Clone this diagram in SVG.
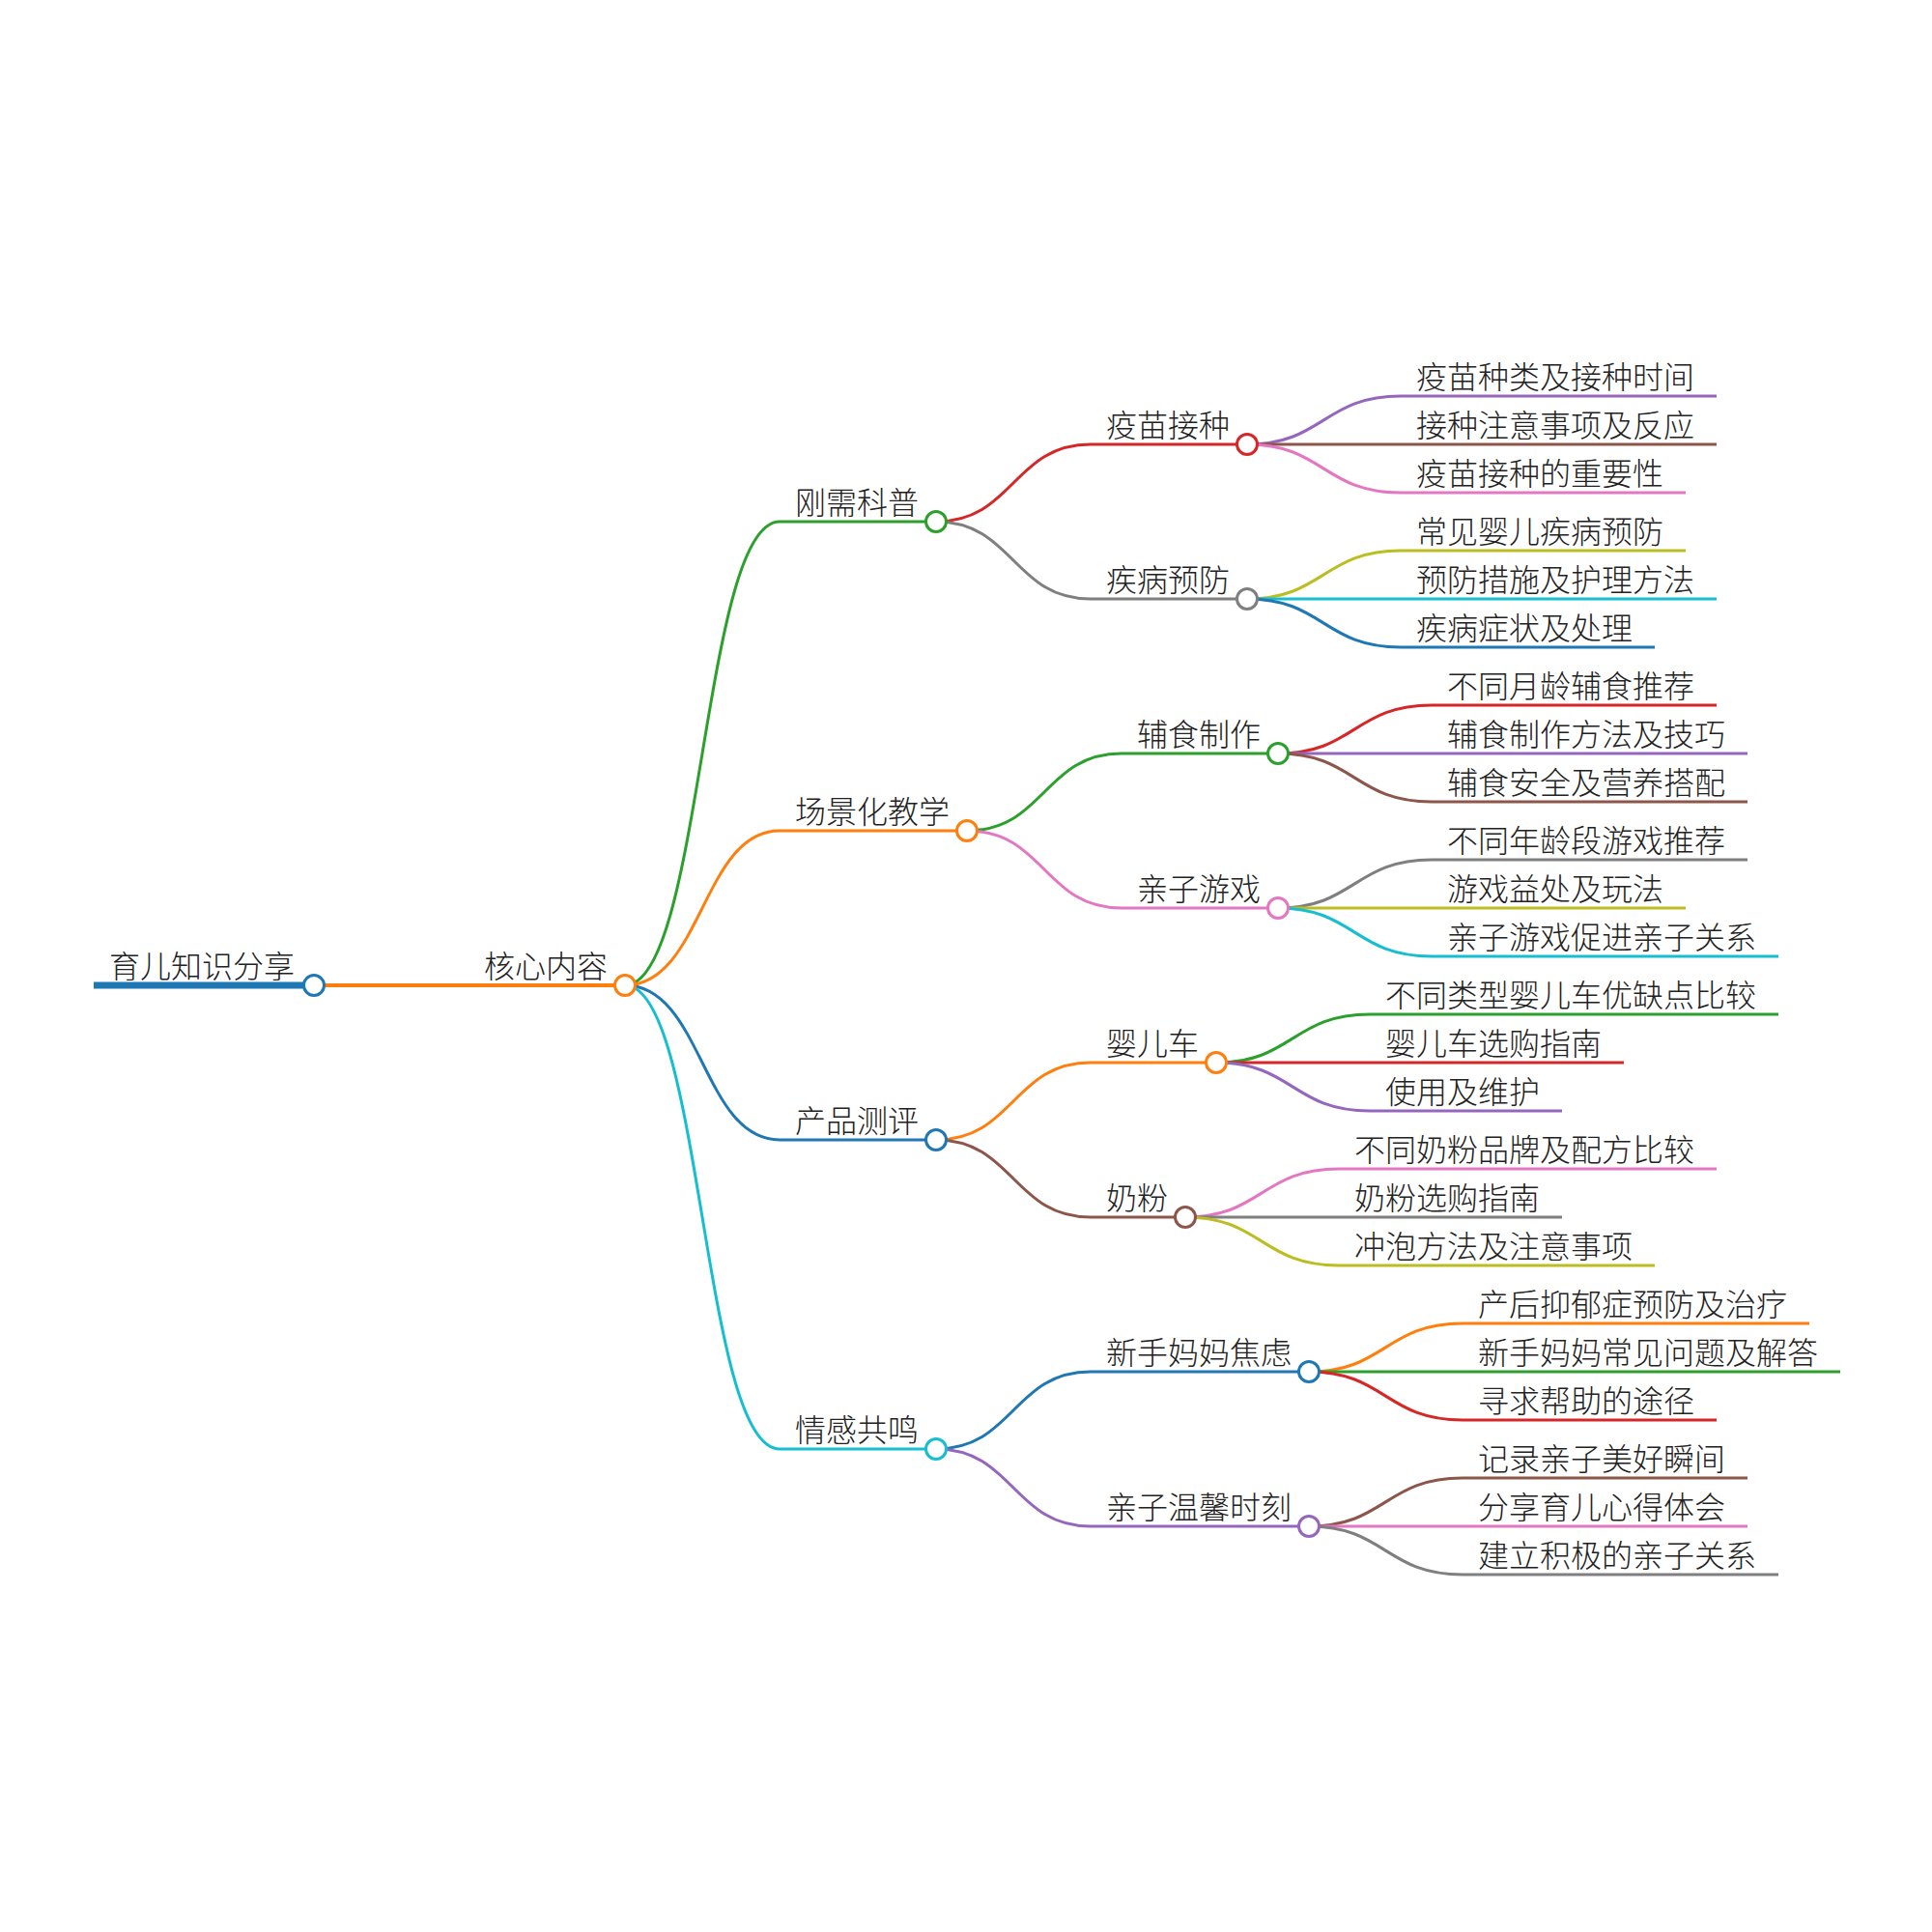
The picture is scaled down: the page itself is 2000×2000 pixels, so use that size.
<svg xmlns="http://www.w3.org/2000/svg" width="2000" height="2000" viewBox="0 0 2000 2000">
<style>
.t{font-family:"Noto Sans CJK SC","Noto Sans",sans-serif;font-size:32px;fill:#222;font-weight:300}
.c{fill:#fff;stroke-width:3}
.l{fill:none;stroke-width:3}
.u{stroke-width:3}
.blue{stroke:#1f77b4}.orange{stroke:#ff7f0e}.green{stroke:#2ca02c}.red{stroke:#d62728}.purple{stroke:#9467bd}
.brown{stroke:#8c564b}.pink{stroke:#e377c2}.gray{stroke:#7f7f7f}.olive{stroke:#bcbd22}.cyan{stroke:#17becf}
</style>
<rect width="2000" height="2000" fill="#fff"/>
<g id="connectors">
<line x1="325" y1="1020" x2="485" y2="1020" class="orange" stroke-width="4"/>
<path class="l green" d="M647,1020 C727,1020 727,540 807,540"/>
<path class="l orange" d="M647,1020 C727,1020 727,860 807,860"/>
<path class="l blue" d="M647,1020 C727,1020 727,1180 807,1180"/>
<path class="l cyan" d="M647,1020 C727,1020 727,1500 807,1500"/>
<path class="l red" d="M969,540 C1049,540 1049,460 1129,460"/>
<path class="l gray" d="M969,540 C1049,540 1049,620 1129,620"/>
<path class="l green" d="M1001,860 C1081,860 1081,780 1161,780"/>
<path class="l pink" d="M1001,860 C1081,860 1081,940 1161,940"/>
<path class="l orange" d="M969,1180 C1049,1180 1049,1100 1129,1100"/>
<path class="l brown" d="M969,1180 C1049,1180 1049,1260 1129,1260"/>
<path class="l blue" d="M969,1500 C1049,1500 1049,1420 1129,1420"/>
<path class="l purple" d="M969,1500 C1049,1500 1049,1580 1129,1580"/>
<path class="l purple" d="M1291,460 C1370,460 1370,410 1450,410"/>
<path class="l brown" d="M1291,460 L1450,460"/>
<path class="l pink" d="M1291,460 C1370,460 1370,510 1450,510"/>
<path class="l olive" d="M1291,620 C1370,620 1370,570 1450,570"/>
<path class="l cyan" d="M1291,620 L1450,620"/>
<path class="l blue" d="M1291,620 C1370,620 1370,670 1450,670"/>
<path class="l red" d="M1323,780 C1402,780 1402,730 1482,730"/>
<path class="l purple" d="M1323,780 L1482,780"/>
<path class="l brown" d="M1323,780 C1402,780 1402,830 1482,830"/>
<path class="l gray" d="M1323,940 C1402,940 1402,890 1482,890"/>
<path class="l olive" d="M1323,940 L1482,940"/>
<path class="l cyan" d="M1323,940 C1402,940 1402,990 1482,990"/>
<path class="l green" d="M1259,1100 C1338,1100 1338,1050 1418,1050"/>
<path class="l red" d="M1259,1100 L1418,1100"/>
<path class="l purple" d="M1259,1100 C1338,1100 1338,1150 1418,1150"/>
<path class="l pink" d="M1227,1260 C1306,1260 1306,1210 1386,1210"/>
<path class="l gray" d="M1227,1260 L1386,1260"/>
<path class="l olive" d="M1227,1260 C1306,1260 1306,1310 1386,1310"/>
<path class="l orange" d="M1355,1420 C1434,1420 1434,1370 1514,1370"/>
<path class="l green" d="M1355,1420 L1514,1420"/>
<path class="l red" d="M1355,1420 C1434,1420 1434,1470 1514,1470"/>
<path class="l brown" d="M1355,1580 C1434,1580 1434,1530 1514,1530"/>
<path class="l pink" d="M1355,1580 L1514,1580"/>
<path class="l gray" d="M1355,1580 C1434,1580 1434,1630 1514,1630"/>
</g>
<g id="n-root"><line x1="97" y1="1020" x2="325" y2="1020" class="blue" stroke-width="7"/><text class="t" x="113" y="1012">育儿知识分享</text><circle class="c blue" cx="325" cy="1020" r="10.5"/></g>
<g id="n-core"><line x1="485" y1="1020" x2="647" y2="1020" class="orange" stroke-width="4"/><text class="t" x="501" y="1012">核心内容</text><circle class="c orange" cx="647" cy="1020" r="10.5"/></g>
<g id="n-a"><line x1="807" y1="540" x2="969" y2="540" class="u green"/><text class="t" x="823" y="532">刚需科普</text><circle class="c green" cx="969" cy="540" r="10.5"/></g>
<g id="n-b"><line x1="807" y1="860" x2="1001" y2="860" class="u orange"/><text class="t" x="823" y="852">场景化教学</text><circle class="c orange" cx="1001" cy="860" r="10.5"/></g>
<g id="n-c"><line x1="807" y1="1180" x2="969" y2="1180" class="u blue"/><text class="t" x="823" y="1172">产品测评</text><circle class="c blue" cx="969" cy="1180" r="10.5"/></g>
<g id="n-d"><line x1="807" y1="1500" x2="969" y2="1500" class="u cyan"/><text class="t" x="823" y="1492">情感共鸣</text><circle class="c cyan" cx="969" cy="1500" r="10.5"/></g>
<g id="n-a1"><line x1="1129" y1="460" x2="1291" y2="460" class="u red"/><text class="t" x="1145" y="452">疫苗接种</text><circle class="c red" cx="1291" cy="460" r="10.5"/></g>
<g id="n-a2"><line x1="1129" y1="620" x2="1291" y2="620" class="u gray"/><text class="t" x="1145" y="612">疾病预防</text><circle class="c gray" cx="1291" cy="620" r="10.5"/></g>
<g id="n-b1"><line x1="1161" y1="780" x2="1323" y2="780" class="u green"/><text class="t" x="1177" y="772">辅食制作</text><circle class="c green" cx="1323" cy="780" r="10.5"/></g>
<g id="n-b2"><line x1="1161" y1="940" x2="1323" y2="940" class="u pink"/><text class="t" x="1177" y="932">亲子游戏</text><circle class="c pink" cx="1323" cy="940" r="10.5"/></g>
<g id="n-c1"><line x1="1129" y1="1100" x2="1259" y2="1100" class="u orange"/><text class="t" x="1145" y="1092">婴儿车</text><circle class="c orange" cx="1259" cy="1100" r="10.5"/></g>
<g id="n-c2"><line x1="1129" y1="1260" x2="1227" y2="1260" class="u brown"/><text class="t" x="1145" y="1252">奶粉</text><circle class="c brown" cx="1227" cy="1260" r="10.5"/></g>
<g id="n-d1"><line x1="1129" y1="1420" x2="1355" y2="1420" class="u blue"/><text class="t" x="1145" y="1412">新手妈妈焦虑</text><circle class="c blue" cx="1355" cy="1420" r="10.5"/></g>
<g id="n-d2"><line x1="1129" y1="1580" x2="1355" y2="1580" class="u purple"/><text class="t" x="1145" y="1572">亲子温馨时刻</text><circle class="c purple" cx="1355" cy="1580" r="10.5"/></g>
<g id="n-a1-1"><line x1="1450" y1="410" x2="1777" y2="410" class="u purple"/><text class="t" x="1466" y="402">疫苗种类及接种时间</text></g>
<g id="n-a1-2"><line x1="1450" y1="460" x2="1777" y2="460" class="u brown"/><text class="t" x="1466" y="452">接种注意事项及反应</text></g>
<g id="n-a1-3"><line x1="1450" y1="510" x2="1745" y2="510" class="u pink"/><text class="t" x="1466" y="502">疫苗接种的重要性</text></g>
<g id="n-a2-1"><line x1="1450" y1="570" x2="1745" y2="570" class="u olive"/><text class="t" x="1466" y="562">常见婴儿疾病预防</text></g>
<g id="n-a2-2"><line x1="1450" y1="620" x2="1777" y2="620" class="u cyan"/><text class="t" x="1466" y="612">预防措施及护理方法</text></g>
<g id="n-a2-3"><line x1="1450" y1="670" x2="1713" y2="670" class="u blue"/><text class="t" x="1466" y="662">疾病症状及处理</text></g>
<g id="n-b1-1"><line x1="1482" y1="730" x2="1777" y2="730" class="u red"/><text class="t" x="1498" y="722">不同月龄辅食推荐</text></g>
<g id="n-b1-2"><line x1="1482" y1="780" x2="1809" y2="780" class="u purple"/><text class="t" x="1498" y="772">辅食制作方法及技巧</text></g>
<g id="n-b1-3"><line x1="1482" y1="830" x2="1809" y2="830" class="u brown"/><text class="t" x="1498" y="822">辅食安全及营养搭配</text></g>
<g id="n-b2-1"><line x1="1482" y1="890" x2="1809" y2="890" class="u gray"/><text class="t" x="1498" y="882">不同年龄段游戏推荐</text></g>
<g id="n-b2-2"><line x1="1482" y1="940" x2="1745" y2="940" class="u olive"/><text class="t" x="1498" y="932">游戏益处及玩法</text></g>
<g id="n-b2-3"><line x1="1482" y1="990" x2="1841" y2="990" class="u cyan"/><text class="t" x="1498" y="982">亲子游戏促进亲子关系</text></g>
<g id="n-c1-1"><line x1="1418" y1="1050" x2="1841" y2="1050" class="u green"/><text class="t" x="1434" y="1042">不同类型婴儿车优缺点比较</text></g>
<g id="n-c1-2"><line x1="1418" y1="1100" x2="1681" y2="1100" class="u red"/><text class="t" x="1434" y="1092">婴儿车选购指南</text></g>
<g id="n-c1-3"><line x1="1418" y1="1150" x2="1617" y2="1150" class="u purple"/><text class="t" x="1434" y="1142">使用及维护</text></g>
<g id="n-c2-1"><line x1="1386" y1="1210" x2="1777" y2="1210" class="u pink"/><text class="t" x="1402" y="1202">不同奶粉品牌及配方比较</text></g>
<g id="n-c2-2"><line x1="1386" y1="1260" x2="1617" y2="1260" class="u gray"/><text class="t" x="1402" y="1252">奶粉选购指南</text></g>
<g id="n-c2-3"><line x1="1386" y1="1310" x2="1713" y2="1310" class="u olive"/><text class="t" x="1402" y="1302">冲泡方法及注意事项</text></g>
<g id="n-d1-1"><line x1="1514" y1="1370" x2="1873" y2="1370" class="u orange"/><text class="t" x="1530" y="1362">产后抑郁症预防及治疗</text></g>
<g id="n-d1-2"><line x1="1514" y1="1420" x2="1905" y2="1420" class="u green"/><text class="t" x="1530" y="1412">新手妈妈常见问题及解答</text></g>
<g id="n-d1-3"><line x1="1514" y1="1470" x2="1777" y2="1470" class="u red"/><text class="t" x="1530" y="1462">寻求帮助的途径</text></g>
<g id="n-d2-1"><line x1="1514" y1="1530" x2="1809" y2="1530" class="u brown"/><text class="t" x="1530" y="1522">记录亲子美好瞬间</text></g>
<g id="n-d2-2"><line x1="1514" y1="1580" x2="1809" y2="1580" class="u pink"/><text class="t" x="1530" y="1572">分享育儿心得体会</text></g>
<g id="n-d2-3"><line x1="1514" y1="1630" x2="1841" y2="1630" class="u gray"/><text class="t" x="1530" y="1622">建立积极的亲子关系</text></g>
</svg>
